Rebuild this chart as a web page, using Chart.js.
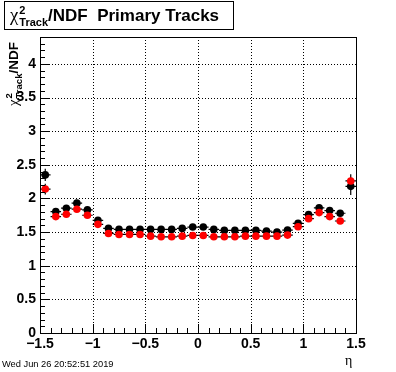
<!DOCTYPE html>
<html>
<head>
<meta charset="utf-8">
<script src="https://cdn.jsdelivr.net/npm/chart.js@4"></script>
<style>
  body { margin: 0; background: #fff; }
  canvas { display: block; }
</style>
</head>
<body>
<canvas id="myChart" width="396" height="372"></canvas>
<script>
// eta bin centres (bin width 0.1)
const etaBins = [
  -1.45, -1.35, -1.25, -1.15, -1.05, -0.95, -0.85, -0.75, -0.65, -0.55,
  -0.45, -0.35, -0.25, -0.15, -0.05, 0.05, 0.15, 0.25, 0.35, 0.45,
  0.55, 0.65, 0.75, 0.85, 0.95, 1.05, 1.15, 1.25, 1.35, 1.45,
];
const binHalfWidth = 0.05;

const chi2Black = [
  2.35, 1.805, 1.855, 1.93, 1.83, 1.675, 1.555, 1.54, 1.54, 1.54,
  1.54, 1.54, 1.54, 1.555, 1.575, 1.575, 1.54, 1.525, 1.525, 1.525,
  1.525, 1.515, 1.5, 1.53, 1.63, 1.76, 1.86, 1.82, 1.78, 2.18,
];
const errBlack = [
  0.09, 0.02, 0.02, 0.02, 0.02, 0.02, 0.01, 0.01, 0.01, 0.01,
  0.01, 0.01, 0.01, 0.01, 0.01, 0.01, 0.01, 0.01, 0.01, 0.01,
  0.01, 0.01, 0.01, 0.01, 0.02, 0.02, 0.02, 0.02, 0.02, 0.13,
];

const chi2Red = [
  2.14, 1.73, 1.765, 1.84, 1.75, 1.615, 1.48, 1.465, 1.465, 1.465,
  1.44, 1.43, 1.43, 1.44, 1.45, 1.45, 1.43, 1.43, 1.43, 1.44,
  1.44, 1.44, 1.44, 1.455, 1.58, 1.7, 1.79, 1.73, 1.665, 2.26,
];
const errRed = [
  0.08, 0.02, 0.02, 0.02, 0.02, 0.02, 0.01, 0.01, 0.01, 0.01,
  0.01, 0.01, 0.01, 0.01, 0.01, 0.01, 0.01, 0.01, 0.01, 0.01,
  0.01, 0.01, 0.01, 0.01, 0.02, 0.02, 0.02, 0.02, 0.02, 0.1,
];

const xMajor = [-1.5, -1, -0.5, 0, 0.5, 1, 1.5];
const yMajor = [0, 0.5, 1, 1.5, 2, 2.5, 3, 3.5, 4];

const titleRest = "/NDF  Primary Tracks";
const yTitleRest = "/NDF";
const xTitle = "\u03b7";
const dateText = "Wed Jun 26 20:52:51 2019";

function fmt(v) {
  if (Math.abs(v) < 1e-9) return "0";
  const s = String(Math.round(Math.abs(v) * 10) / 10);
  return v < 0 ? "\u2212" + s : s;
}

// chi^2_Track followed by some text, left aligned on baseline y
function drawChi(ctx, x, y, big, small, rest) {
  ctx.font = big * 1.1 + 'px "Liberation Serif"';
  ctx.fillText("\u03c7", x, y);
  x += ctx.measureText("\u03c7").width + 1;
  ctx.font = "bold " + small + 'px "Liberation Sans"';
  ctx.fillText("2", x, y - big * 0.42);
  ctx.fillText("Track", x, y + big * 0.32);
  x += ctx.measureText("Track").width;
  ctx.font = "bold " + big + 'px "Liberation Sans"';
  ctx.fillText(rest, x, y);
}

const rootLook = {
  id: "rootLook",
  beforeDatasetsDraw(chart) {
    const ctx = chart.ctx;
    const a = chart.chartArea;
    const xs = chart.scales.x;
    const ys = chart.scales.y;
    ctx.save();
    // dotted grid
    ctx.strokeStyle = "#000";
    ctx.lineWidth = 1;
    ctx.setLineDash([1, 2]);
    ctx.beginPath();
    xMajor.slice(1, -1).forEach((v) => {
      const px = Math.round(xs.getPixelForValue(v)) + 0.5;
      ctx.moveTo(px, a.top);
      ctx.lineTo(px, a.bottom);
    });
    yMajor.slice(1).forEach((v) => {
      const py = Math.round(ys.getPixelForValue(v)) + 0.5;
      ctx.moveTo(a.left, py);
      ctx.lineTo(a.right, py);
    });
    ctx.stroke();
    ctx.setLineDash([]);
    // error bars
    ctx.lineWidth = 1.2;
    const sets = [
      [chi2Black, errBlack],
      [chi2Red, errRed],
    ];
    sets.forEach(([vals, errs]) => {
      ctx.beginPath();
      etaBins.forEach((eta, i) => {
        const py = ys.getPixelForValue(vals[i]);
        ctx.moveTo(xs.getPixelForValue(eta - binHalfWidth), py);
        ctx.lineTo(xs.getPixelForValue(eta + binHalfWidth), py);
        const px = xs.getPixelForValue(eta);
        ctx.moveTo(px, ys.getPixelForValue(vals[i] - errs[i]));
        ctx.lineTo(px, ys.getPixelForValue(vals[i] + errs[i]));
      });
      ctx.stroke();
    });
    ctx.restore();
  },
  afterDatasetsDraw(chart) {
    const ctx = chart.ctx;
    const a = chart.chartArea;
    const xs = chart.scales.x;
    const ys = chart.scales.y;
    ctx.save();
    ctx.strokeStyle = "#000";
    ctx.lineWidth = 1;
    ctx.strokeRect(a.left + 0.5, a.top + 0.5, a.right - a.left, a.bottom - a.top);
    // ticks inside the frame
    ctx.beginPath();
    for (let k = 0; k <= 30; k++) {
      const v = -1.5 + k * 0.1;
      const len = k % 5 === 0 ? 9 : 5;
      const px = Math.round(xs.getPixelForValue(v)) + 0.5;
      ctx.moveTo(px, a.bottom);
      ctx.lineTo(px, a.bottom - len);
    }
    for (let k = 0; k <= 44; k++) {
      const v = k * 0.1;
      const len = k % 5 === 0 ? 9 : 5;
      const py = Math.round(ys.getPixelForValue(v)) + 0.5;
      ctx.moveTo(a.left, py);
      ctx.lineTo(a.left + len, py);
    }
    ctx.stroke();
    ctx.restore();
  },
  afterDraw(chart) {
    const ctx = chart.ctx;
    ctx.save();
    ctx.fillStyle = "#000";
    ctx.strokeStyle = "#000";
    ctx.lineWidth = 1;
    // title box
    ctx.strokeRect(4.5, 1.5, 229, 28);
    ctx.textBaseline = "alphabetic";
    ctx.textAlign = "left";
    drawChi(ctx, 10, 21, 17, 11, titleRest);
    // y title, rotated, ending at top of axis
    ctx.save();
    ctx.translate(18, 106);
    ctx.rotate(-Math.PI / 2);
    drawChi(ctx, 0, 0, 13.5, 9.5, yTitleRest);
    ctx.restore();
    // x title
    ctx.font = '14px "Liberation Serif"';
    ctx.fillText(xTitle, 345, 365);
    // date stamp
    ctx.font = '9.3px "Liberation Sans"';
    ctx.fillText(dateText, 2, 367);
    ctx.restore();
  },
};

const ctx = document.getElementById("myChart").getContext("2d");

const data = {
  datasets: [
    {
      label: "black",
      data: etaBins.map((x, i) => ({ x, y: chi2Black[i] })),
      backgroundColor: "#000",
      borderWidth: 0,
      pointRadius: 3.8,
      order: 1,
    },
    {
      label: "red",
      data: etaBins.map((x, i) => ({ x, y: chi2Red[i] })),
      backgroundColor: "#ff0000",
      borderWidth: 0,
      pointRadius: 3.8,
      order: 0,
    },
  ],
};

const tickFont = { family: '"Liberation Sans"', size: 14, weight: "bold" };

const config = {
  type: "scatter",
  data: data,
  options: {
    responsive: false,
    devicePixelRatio: 1,
    animation: false,
    layout: { padding: { left: 0, top: 37, right: 40, bottom: 0 } },
    plugins: {
      legend: { display: false },
      tooltip: { enabled: false },
    },
    scales: {
      x: {
        type: "linear",
        min: -1.5,
        max: 1.5,
        grid: { display: false, drawTicks: false, tickLength: 0 },
        border: { display: false },
        afterBuildTicks: (scale) => {
          scale.ticks = xMajor.map((v) => ({ value: v }));
        },
        afterFit: (scale) => {
          scale.height = 39;
        },
        ticks: {
          color: "#000",
          font: tickFont,
          padding: 3,
          maxRotation: 0,
          autoSkip: false,
          callback: (v) => fmt(v),
        },
      },
      y: {
        type: "linear",
        min: 0,
        max: 4.4,
        grid: { display: false, drawTicks: false, tickLength: 0 },
        border: { display: false },
        afterBuildTicks: (scale) => {
          scale.ticks = yMajor.map((v) => ({ value: v }));
        },
        afterFit: (scale) => {
          scale.width = 40;
        },
        ticks: {
          color: "#000",
          font: tickFont,
          padding: 4,
          autoSkip: false,
          callback: (v) => fmt(v),
        },
      },
    },
  },
  plugins: [rootLook],
};

const myChart = new Chart(ctx, config);
</script>
</body>
</html>
